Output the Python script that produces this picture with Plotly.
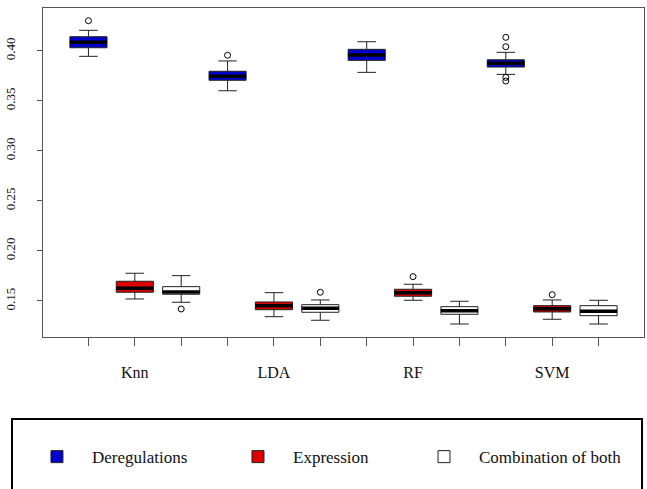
import plotly.graph_objects as go

# ---------------- data ----------------
classifiers = ["Knn", "LDA", "RF", "SVM"]
series_names = ["Deregulations", "Expression", "Combination of both"]

dereg_lo = [0.3944, 0.3600, 0.3784, 0.3764]
dereg_q1 = [0.4030, 0.3705, 0.3904, 0.3837]
dereg_med = [0.4084, 0.3745, 0.3957, 0.3874]
dereg_q3 = [0.4140, 0.3795, 0.4014, 0.3910]
dereg_hi = [0.4204, 0.3898, 0.4090, 0.3984]
dereg_out = [[0.4300], [0.3955], [], [0.4134, 0.4040, 0.3734, 0.3697]]

expr_lo = [0.1520, 0.1343, 0.1507, 0.1317]
expr_q1 = [0.1587, 0.1413, 0.1547, 0.1390]
expr_med = [0.1627, 0.1453, 0.1583, 0.1423]
expr_q3 = [0.1697, 0.1490, 0.1617, 0.1453]
expr_hi = [0.1777, 0.1583, 0.1667, 0.1510]
expr_out = [[], [], [0.1743], [0.1563]]

comb_lo = [0.1487, 0.1307, 0.1270, 0.1270]
comb_q1 = [0.1567, 0.1387, 0.1367, 0.1353]
comb_med = [0.1590, 0.1427, 0.1403, 0.1397]
comb_q3 = [0.1643, 0.1463, 0.1443, 0.1453]
comb_hi = [0.1753, 0.1510, 0.1497, 0.1507]
comb_out = [[0.1420], [0.1587], [], []]

y_ticks = [0.15, 0.20, 0.25, 0.30, 0.35, 0.40]

# ---------------- styling ----------------
FONT = "Liberation Serif, Times New Roman, serif"
fills = ["#0000CD", "#DD0000", "#FFFFFF"]
BOXW = 0.8
legend_ids = ["legend", "legend2", "legend3"]
legend_x = [-0.035, 0.2995, 0.609]

stats = [
    (dereg_lo, dereg_q1, dereg_med, dereg_q3, dereg_hi, dereg_out),
    (expr_lo, expr_q1, expr_med, expr_q3, expr_hi, expr_out),
    (comb_lo, comb_q1, comb_med, comb_q3, comb_hi, comb_out),
]
n_series = len(series_names)

fig = go.Figure()
for s, (lo, q1, med, q3, hi, outs) in enumerate(stats):
    pos = [g * n_series + s + 1 for g in range(len(classifiers))]
    fig.add_trace(go.Box(
        name=series_names[s], x=pos,
        lowerfence=lo, q1=q1, median=med, q3=q3, upperfence=hi,
        width=BOXW, whiskerwidth=0.5, boxpoints=False,
        fillcolor=fills[s], line=dict(color="#222222", width=1),
        showlegend=True, legend=legend_ids[s],
    ))
    # thick median line (as in R boxplot)
    mx, my = [], []
    for p, m in zip(pos, med):
        mx += [p - BOXW / 2, p + BOXW / 2, None]
        my += [m, m, None]
    fig.add_trace(go.Scatter(x=mx, y=my, mode="lines",
                             line=dict(color="#000000", width=3.5),
                             showlegend=False, hoverinfo="skip"))
    # outliers
    ox, oy = [], []
    for p, o in zip(pos, outs):
        ox += [p] * len(o)
        oy += o
    fig.add_trace(go.Scatter(x=ox, y=oy, mode="markers",
                             marker=dict(symbol="circle-open", size=6,
                                         color="#000000", line=dict(width=1)),
                             showlegend=False, hoverinfo="skip"))

tickvals = list(range(1, len(classifiers) * n_series + 1))
ticktext = []
for c in classifiers:
    ticktext += ["", c, ""]

legend_style = dict(orientation="h", xanchor="left", y=-0.365,
                    yanchor="middle", itemwidth=60, bgcolor="rgba(0,0,0,0)",
                    font=dict(size=17, family=FONT, color="#111111"))

fig.update_layout(
    width=647, height=489,
    margin=dict(l=43, r=3, t=8, b=152),
    plot_bgcolor="white", paper_bgcolor="white",
    font=dict(family=FONT, color="#111111"),
    xaxis=dict(range=[0.02, 12.98], tickvals=tickvals, ticktext=ticktext,
               ticks="outside", ticklen=8, tickcolor="#555555",
               showline=True, mirror=True, linecolor="#555555", linewidth=1,
               showgrid=False, zeroline=False,
               tickfont=dict(size=16, family=FONT, color="#111111"),
               ticklabelstandoff=13),
    yaxis=dict(range=[0.114, 0.4427], tickvals=y_ticks,
               ticktext=[f"{v:.2f}" for v in y_ticks],
               ticks="outside", ticklen=5, tickcolor="#555555",
               showline=True, mirror=True, linecolor="#555555", linewidth=1,
               showgrid=False, zeroline=False, tickangle=-90,
               tickfont=dict(size=13, family=FONT, color="#111111"),
               ticklabelstandoff=17),
    shapes=[dict(type="rect", xref="paper", yref="paper",
                 x0=-0.0516, x1=0.9967, y0=-0.2492, y1=-0.475,
                 line=dict(color="#000000", width=2))],
)
for lid, lx in zip(legend_ids, legend_x):
    fig.update_layout({lid: dict(legend_style, x=lx)})

fig.write_html("out.html")
